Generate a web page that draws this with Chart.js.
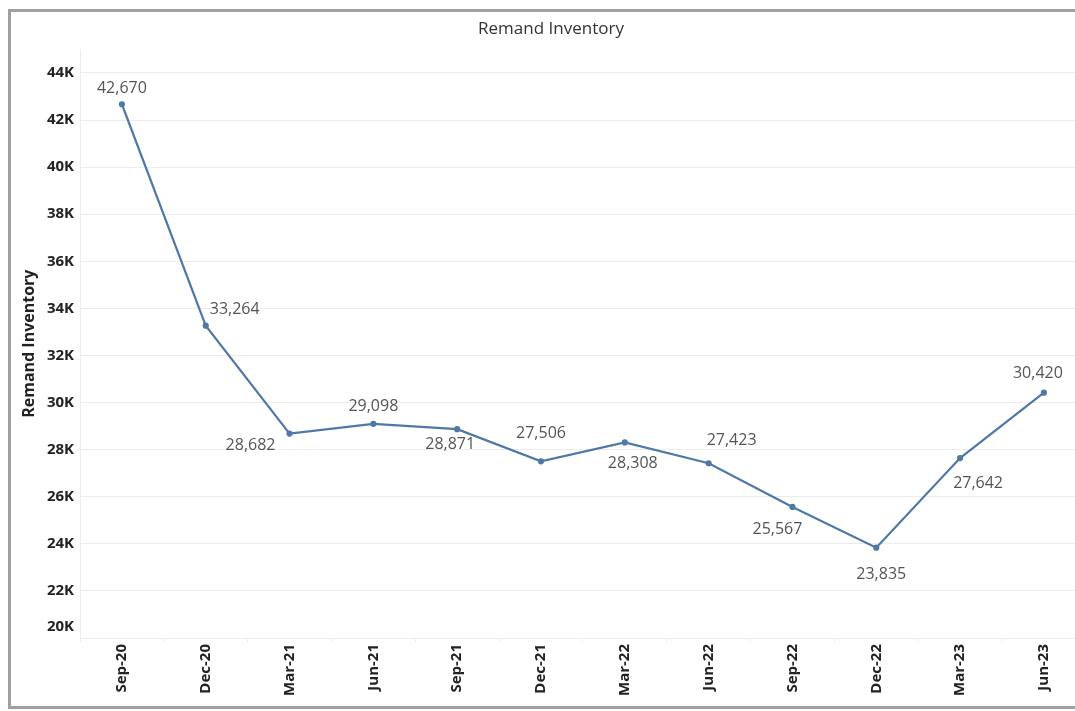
<!DOCTYPE html>
<html>
<head>
<meta charset="utf-8">
<script src="https://cdn.jsdelivr.net/npm/chart.js@4/dist/chart.umd.min.js"></script>
<style>
  html, body { margin: 0; padding: 0; background: #fff; overflow: hidden; width: 1075px; height: 711px; }
  .frame { position: absolute; left: 8px; top: 9px; width: 1100px; height: 694px; border: 3px solid #a0a0a0; border-right: none; }
  #remandChart { position: absolute; left: 11px; top: 12px; }
</style>
</head>
<body>
<div class="frame"></div>
<canvas id="remandChart" width="1080" height="694"></canvas>
<script>
const quarters = ["Sep-20","Dec-20","Mar-21","Jun-21","Sep-21","Dec-21","Mar-22","Jun-22","Sep-22","Dec-22","Mar-23","Jun-23"];
const remandInventory = [42670, 33264, 28682, 29098, 28871, 27506, 28308, 27423, 25567, 23835, 27642, 30420];
const yTicks = [20000, 22000, 24000, 26000, 28000, 30000, 32000, 34000, 36000, 38000, 40000, 42000, 44000];

// where each value label sits relative to its point (px)
const labelDx = [0, 29, -39, 0, -7, 0, 8, 23, -15, 5, 18, -6];
const labelDy = [-16, -16, 12, -17, 15, -28, 21, -23, 23, 27, 25, -19];

const FONT = "'Open Sans', 'Noto Sans', sans-serif";

const valueLabels = {
  id: "valueLabels",
  beforeDraw(chart) {
    // Tableau squeezes the bottom 20K label up inside the pane
    const items = chart.scales.y.getLabelItems();
    items.forEach(it => {
      if (it.label === "20K" && !it._moved) {
        it.options.translation[1] -= 11;
        it._moved = true;
      }
    });
  },
  afterDatasetsDraw(chart) {
    const ctx = chart.ctx;
    const xs = chart.scales.x, ys = chart.scales.y;
    ctx.save();
    ctx.font = "16px " + FONT;
    ctx.fillStyle = "#555";
    ctx.textAlign = "center";
    ctx.textBaseline = "middle";
    remandInventory.forEach((v, i) => {
      const px = xs.getPixelForValue(i) + labelDx[i];
      const py = ys.getPixelForValue(v) + labelDy[i];
      ctx.fillText(v.toLocaleString("en-US"), px, py);
    });
    ctx.restore();
  }
};

new Chart(document.getElementById("remandChart"), {
  type: "line",
  data: {
    labels: quarters,
    datasets: [{
      label: "Remand Inventory",
      data: remandInventory,
      borderColor: "#4e79a7",
      backgroundColor: "#4e79a7",
      borderWidth: 2.2,
      pointRadius: 2,
      pointHoverRadius: 3,
      tension: 0,
      fill: false
    }]
  },
  options: {
    responsive: false,
    animation: false,
    layout: { padding: { left: 0, right: 0, top: 0, bottom: 0 } },
    plugins: {
      legend: { display: false },
      tooltip: { enabled: false },
      title: {
        display: true,
        text: "Remand Inventory",
        color: "#333",
        font: { family: FONT, size: 17, weight: "normal" },
        padding: { top: 7, bottom: 10 }
      }
    },
    scales: {
      x: {
        offset: true,
        grid: { display: true, offset: true, color: "#f0f0f0", drawOnChartArea: false, tickLength: 4 },
        border: { display: false },
        ticks: {
          color: "#222",
          font: { family: FONT, size: 15, weight: "bold" },
          minRotation: 90,
          maxRotation: 90,
          padding: 2
        },
        afterFit(scale) { scale.height = 68; }
      },
      y: {
        min: 20000,
        max: 45000,
        afterBuildTicks(scale) { scale.ticks = yTicks.map(v => ({ value: v })); },
        grid: { color: "#ececec", drawTicks: false },
        border: { display: true, color: "#ececec" },
        ticks: {
          color: "#222",
          padding: 6,
          font: { family: FONT, size: 15, weight: "bold" },
          callback: v => (v / 1000) + "K"
        },
        title: {
          display: true,
          text: "Remand Inventory",
          color: "#222",
          font: { family: FONT, size: 16, weight: "bold" },
          padding: { top: 9, bottom: 0 }
        },
        afterFit(scale) { scale.width = 69; }
      }
    }
  },
  plugins: [valueLabels]
});
</script>
</body>
</html>
